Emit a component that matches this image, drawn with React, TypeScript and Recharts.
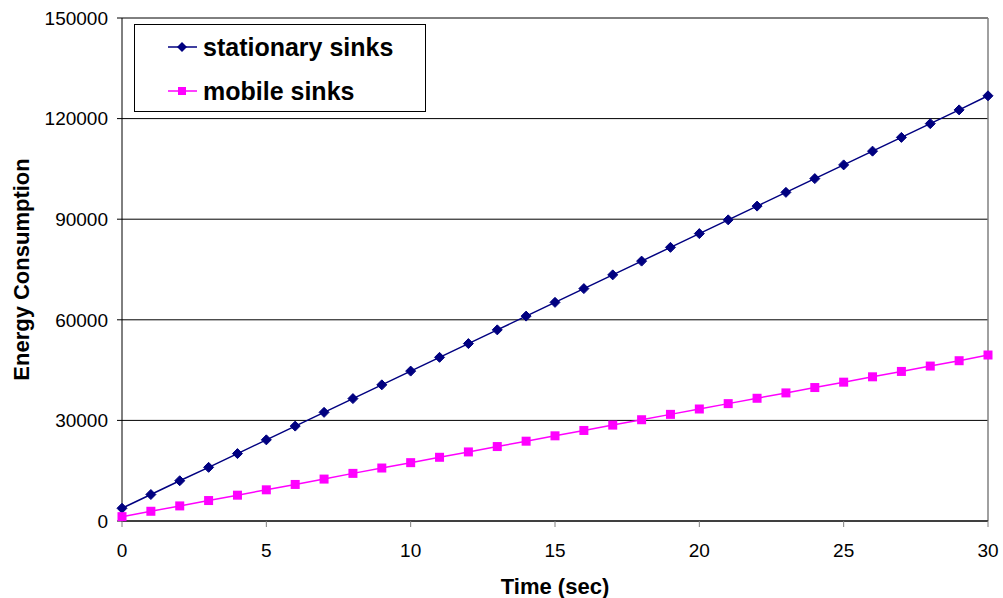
import { LineChart, Line, XAxis, YAxis, CartesianGrid, ReferenceLine } from 'recharts'

const timeSec = [0, 1, 2, 3, 4, 5, 6, 7, 8, 9, 10, 11, 12, 13, 14, 15, 16, 17, 18, 19, 20, 21, 22, 23, 24, 25, 26, 27, 28, 29, 30]
const stationarySinks = [
  3800, 7900, 12000, 16000, 20100, 24200, 28300, 32400, 36500, 40600, 44700, 48800, 52900, 57000, 61100, 65200,
  69300, 73400, 77500, 81600, 85700, 89800, 93900, 98000, 102100, 106200, 110300, 114400, 118500, 122600, 126800,
]
const mobileSinks = [
  1300, 2900, 4500, 6100, 7700, 9300, 10900, 12500, 14200, 15800, 17400, 19000, 20600, 22200, 23800, 25400,
  27000, 28600, 30200, 31800, 33400, 35000, 36600, 38200, 39800, 41400, 43000, 44600, 46200, 47800, 49500,
]
const xTicks = [0, 5, 10, 15, 20, 25, 30]
const yTicks = [0, 30000, 60000, 90000, 120000, 150000]

const NAVY = '#000080'
const MAGENTA = '#FF00FF'
const FONT = '"Liberation Sans", Arial, sans-serif'

const rows = timeSec.map((t, i) => ({ t, stationary: stationarySinks[i], mobile: mobileSinks[i] }))

function Diamond({ cx, cy }: { cx?: number; cy?: number }) {
  if (cx == null || cy == null) return null
  const r = 5
  return <path d={`M${cx},${cy - r}L${cx + r},${cy}L${cx},${cy + r}L${cx - r},${cy}Z`} fill={NAVY} stroke={NAVY} />
}

function Square({ cx, cy }: { cx?: number; cy?: number }) {
  if (cx == null || cy == null) return null
  const r = 4.5
  return <rect x={cx - r} y={cy - r} width={r * 2} height={r * 2} fill={MAGENTA} />
}

function YTitle({ viewBox }: any) {
  const cy = viewBox.y + viewBox.height / 2
  return (
    <text x={21} y={cy} transform={`rotate(-90, 21, ${cy})`} textAnchor="middle" dominantBaseline="central"
      fontFamily={FONT} fontWeight="bold" fontSize={22} fill="#000">
      Energy Consumption
    </text>
  )
}

function XTitle({ viewBox }: any) {
  const cx = viewBox.x + viewBox.width / 2
  return (
    <text x={cx} y={586} textAnchor="middle" dominantBaseline="central"
      fontFamily={FONT} fontWeight="bold" fontSize={22} fill="#000">
      Time (sec)
    </text>
  )
}

function LegendBox() {
  const item = (label: string, color: string, square: boolean) => (
    <div style={{ display: 'flex', alignItems: 'center', height: 44 }}>
      <svg width={36} height={14} style={{ marginLeft: 30, marginRight: 2 }}>
        <line x1={3} y1={7} x2={32} y2={7} stroke={color} strokeWidth={1.5} />
        {square ? (
          <rect x={13} y={3} width={8} height={8} fill={color} />
        ) : (
          <path d="M17,2L22,7L17,12L12,7Z" fill={color} />
        )}
      </svg>
      <span style={{ fontFamily: FONT, fontWeight: 'bold', fontSize: 25, color: '#000' }}>{label}</span>
    </div>
  )
  return (
    <div style={{ position: 'absolute', left: 134, top: 24, width: 290, height: 86, border: '1px solid #000', background: '#fff' }}>
      {item('stationary sinks', NAVY, false)}
      {item('mobile sinks', MAGENTA, true)}
    </div>
  )
}

export default function App() {
  return (
    <div style={{ position: 'absolute', left: 0, top: 0, width: 1003, height: 598, background: '#fff' }}>
      <LineChart width={1003} height={598} data={rows} margin={{ top: 18, right: 15, left: 0, bottom: 47 }}>
        <CartesianGrid vertical={false} stroke="#000" strokeWidth={1} horizontalValues={yTicks} />
        <XAxis
          dataKey="t"
          type="number"
          domain={[0, 30]}
          ticks={xTicks}
          tickSize={6}
          tickMargin={17}
          stroke="#000"
          tickLine={{ stroke: '#808080' }}
          tick={{ fill: '#000', fontSize: 19, fontFamily: FONT }}
          label={<XTitle />}
        />
        <YAxis
          type="number"
          domain={[0, 150000]}
          ticks={yTicks}
          width={122}
          tickSize={5}
          tickMargin={9}
          stroke="#000"
          tick={{ fill: '#000', fontSize: 19, fontFamily: FONT }}
          interval={0}
          label={<YTitle />}
        />
        <ReferenceLine x={30} stroke="#808080" strokeWidth={1.5} />
        <Line dataKey="stationary" stroke={NAVY} strokeWidth={1.5} dot={<Diamond />} isAnimationActive={false} />
        <Line dataKey="mobile" stroke={MAGENTA} strokeWidth={1.5} dot={<Square />} isAnimationActive={false} />
      </LineChart>
      <LegendBox />
    </div>
  )
}
